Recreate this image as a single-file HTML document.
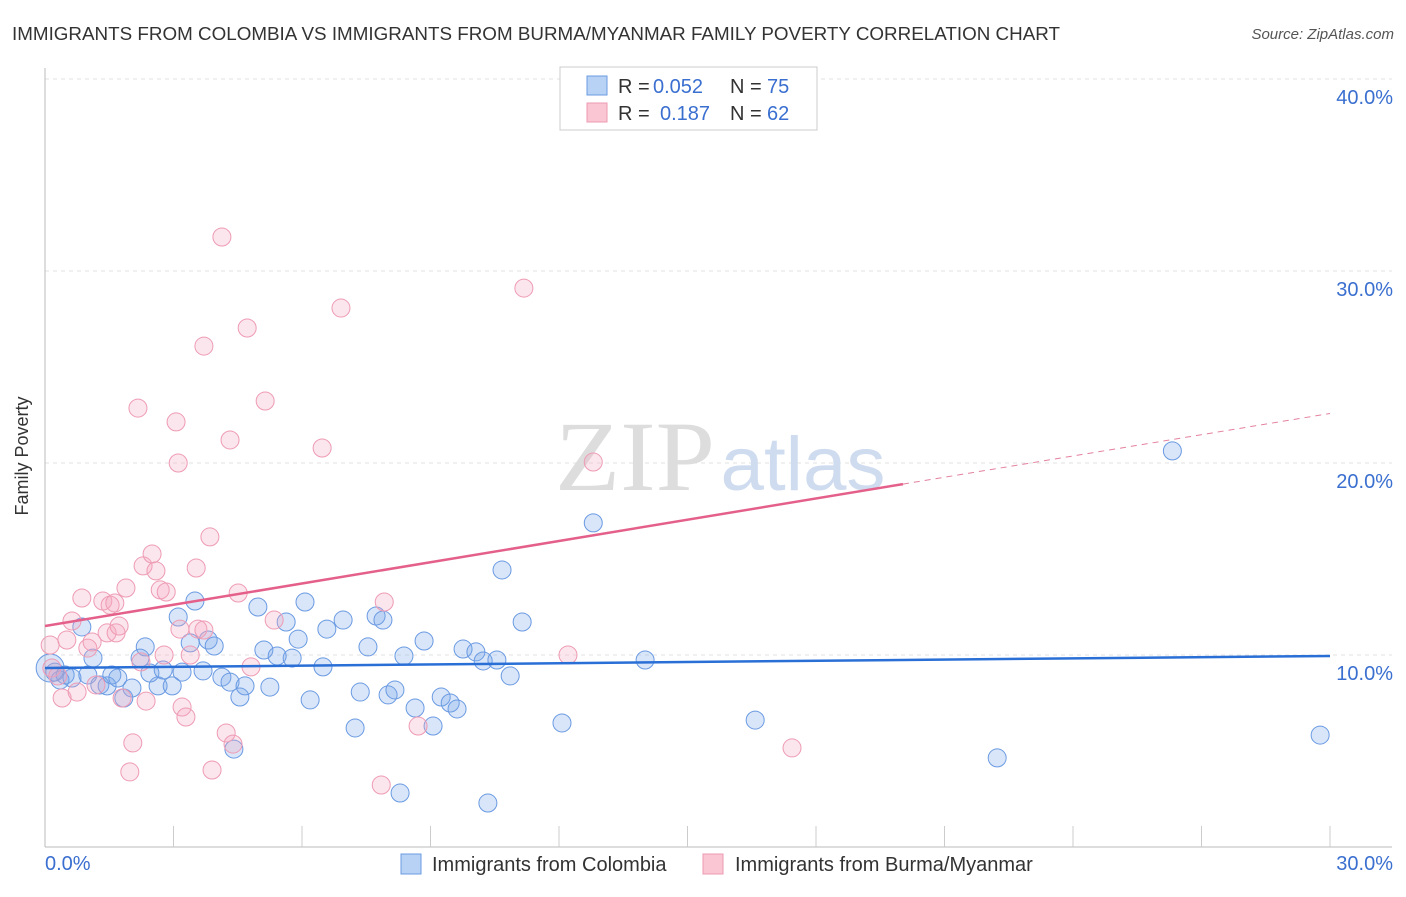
<!DOCTYPE html>
<html><head><meta charset="utf-8"><style>
body{margin:0;background:#fff;font-family:"Liberation Sans",sans-serif;}
</style></head><body>
<svg width="1406" height="892" xmlns="http://www.w3.org/2000/svg">
<text x="12" y="40" font-size="18.5" fill="#333" textLength="1048" lengthAdjust="spacingAndGlyphs">IMMIGRANTS FROM COLOMBIA VS IMMIGRANTS FROM BURMA/MYANMAR FAMILY POVERTY CORRELATION CHART</text>
<text x="1394" y="39" font-size="15" font-style="italic" fill="#555" text-anchor="end">Source: ZipAtlas.com</text>
<g id="grid"></g>
<text x="635" y="490" font-size="100" font-family="Liberation Serif" fill="#ddd" text-anchor="middle" textLength="160" lengthAdjust="spacingAndGlyphs">ZIP</text>
<text x="803" y="490" font-size="76" fill="#cfdcef" text-anchor="middle" textLength="165" lengthAdjust="spacingAndGlyphs">atlas</text>
<g id="yticks"></g>
<g id="xaxis"></g>
<g id="pts"></g>
<g id="lines"></g>
<text x="28" y="456" font-size="18" fill="#333" text-anchor="middle" transform="rotate(-90 28 456)">Family Poverty</text>
<g>
<rect x="560" y="67" width="257" height="63" fill="#fff" stroke="#ccc"/>
<rect x="587" y="76" width="20" height="19" fill="#b8d2f5" stroke="#6a9be0"/>
<rect x="587" y="103" width="20" height="19" fill="#fac6d4" stroke="#ec9ab1"/>
<text x="618" y="93" font-size="20" fill="#333">R =</text>
<text x="653" y="93" font-size="20" fill="#3a6fd0">0.052</text>
<text x="730" y="93" font-size="20" fill="#333">N =</text>
<text x="767" y="93" font-size="20" fill="#3a6fd0">75</text>
<text x="618" y="120" font-size="20" fill="#333">R =</text>
<text x="660" y="120" font-size="20" fill="#3a6fd0">0.187</text>
<text x="730" y="120" font-size="20" fill="#333">N =</text>
<text x="767" y="120" font-size="20" fill="#3a6fd0">62</text>
</g>
<g>
<rect x="401" y="854" width="20" height="20" fill="#b8d2f5" stroke="#6a9be0"/>
<text x="432" y="871" font-size="20" fill="#333">Immigrants from Colombia</text>
<rect x="703" y="854" width="20" height="20" fill="#fac6d4" stroke="#ec9ab1"/>
<text x="735" y="871" font-size="20" fill="#333">Immigrants from Burma/Myanmar</text>
</g>
</svg>
<script>
const yTicks=[10,20,30,40];
const yTickLabels=["10.0%","20.0%","30.0%","40.0%"];
const xTickLabels=["0.0%","30.0%"];
const blueX=[0.12,0.23,0.35,0.47,0.63,0.86,1.00,1.12,1.28,1.45,1.56,1.70,1.84,2.03,2.22,2.34,2.45,2.64,2.76,2.97,3.11,3.20,3.39,3.50,3.69,3.81,3.95,4.13,4.32,4.41,4.55,4.67,4.97,5.11,5.25,5.42,5.63,5.77,5.91,6.07,6.19,6.49,6.58,6.96,7.24,7.36,7.54,7.73,7.89,8.01,8.17,8.29,8.38,8.64,8.85,9.06,9.25,9.46,9.62,9.76,10.06,10.23,10.34,10.55,10.67,10.86,11.14,12.07,12.80,14.01,16.58,22.23,26.32,29.77];
const blueY=[9.32,9.11,8.70,8.96,8.80,11.46,8.96,9.84,8.44,8.39,8.96,8.80,7.76,8.28,9.84,10.42,9.06,8.39,9.22,8.39,11.98,9.11,10.63,12.81,9.17,10.78,10.47,8.85,8.59,5.10,7.81,8.39,12.50,10.26,8.33,9.95,11.72,9.84,10.83,12.76,7.66,9.38,11.35,11.82,6.20,8.07,10.42,12.03,11.82,7.92,8.18,2.81,9.95,7.24,10.73,6.30,7.81,7.50,7.19,10.31,10.16,9.69,2.29,9.74,14.43,8.91,11.72,6.46,16.88,9.74,6.61,4.64,20.63,5.83];
const pinkX=[0.12,0.16,0.30,0.40,0.51,0.63,0.75,0.86,1.00,1.10,1.19,1.35,1.45,1.52,1.66,1.73,1.80,1.89,1.98,2.05,2.17,2.24,2.36,2.29,2.50,2.59,2.69,2.78,2.83,3.06,3.11,3.20,3.29,3.39,3.53,3.57,3.71,3.71,3.85,3.90,4.13,4.23,4.32,4.39,4.51,4.72,4.81,5.14,5.35,6.47,6.91,7.85,7.92,8.71,11.18,12.21,12.80,17.44,3.15,1.63];
const pinkY=[10.52,9.32,8.91,7.76,10.78,11.77,8.07,12.97,10.36,10.68,8.44,12.81,11.15,12.60,11.15,11.51,7.76,13.49,3.91,5.42,22.86,9.64,7.60,14.64,15.26,14.38,13.39,10.00,13.28,22.14,20.00,7.29,6.77,10.00,14.53,11.35,26.09,11.30,16.15,4.01,31.77,5.94,21.20,5.36,13.23,27.03,9.38,23.23,11.82,20.78,28.07,3.23,12.76,6.30,29.11,10.00,20.05,5.16,11.35,12.71];
const blueFit=[9.32,9.95];
const pinkFit=[11.51,22.58];
const pinkSolidEnd=20.03;
const NS="http://www.w3.org/2000/svg";
const X=v=>45+v/30*1285, Y=v=>847-v*19.2;
function mk(t,a,p){const e=document.createElementNS(NS,t);for(const k in a)e.setAttribute(k,a[k]);p.appendChild(e);return e;}
const grid=document.getElementById('grid'),yt=document.getElementById('yticks'),xa=document.getElementById('xaxis');
yTicks.forEach((v,i)=>{
 const l=mk('line',{x1:45,x2:1392,y1:Y(v),y2:Y(v),stroke:'#e2e2e2','stroke-dasharray':'4,4'},grid);
 
 
 const t=mk('text',{x:1393,y:Y(v)+25,'font-size':20,fill:'#3a6fd0','text-anchor':'end'},yt);
 t.textContent=yTickLabels[i];
 
 
});
mk('line',{x1:45,x2:45,y1:68,y2:847,stroke:'#bbb'},xa);
mk('line',{x1:45,x2:1392,y1:847,y2:847,stroke:'#bbb'},xa);
for(let i=1;i<=10;i++)mk('line',{x1:X(i*3),x2:X(i*3),y1:826,y2:847,stroke:'#ccc'},xa);
const t0=mk('text',{x:45,y:870,'font-size':20,fill:'#3a6fd0'},xa);t0.textContent=xTickLabels[0];


const t1=mk('text',{x:1393,y:870,'font-size':20,fill:'#3a6fd0','text-anchor':'end'},xa);t1.textContent=xTickLabels[1];


const pts=document.getElementById('pts');
blueX.forEach((x,i)=>{const c=mk('circle',{cx:X(x),cy:Y(blueY[i]),r:i==0?14:9,fill:'rgba(120,165,235,0.28)',stroke:'#6a9ae2','stroke-width':1},pts);
 
 });
pinkX.forEach((x,i)=>{const c=mk('circle',{cx:X(x),cy:Y(pinkY[i]),r:9,fill:'rgba(245,165,190,0.28)',stroke:'#ee9bb4','stroke-width':1},pts);
 
 });
const ln=document.getElementById('lines');
const b=mk('line',{x1:X(0),y1:Y(blueFit[0]),x2:X(30),y2:Y(blueFit[1]),stroke:'#2a6fd6','stroke-width':2.5},ln);


const pe=pinkFit[0]+(pinkFit[1]-pinkFit[0])*pinkSolidEnd/30;
const p=mk('line',{x1:X(0),y1:Y(pinkFit[0]),x2:X(pinkSolidEnd),y2:Y(pe),stroke:'#e4608a','stroke-width':2.5},ln);


const pd=mk('line',{x1:X(pinkSolidEnd),y1:Y(pe),x2:X(30),y2:Y(pinkFit[1]),stroke:'#e4809e','stroke-width':1,'stroke-dasharray':'6,5'},ln);


</script>
</body></html>
